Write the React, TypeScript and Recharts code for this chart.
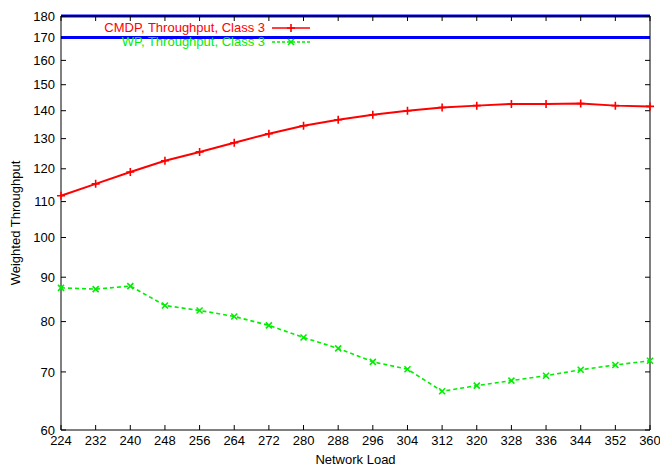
import { LineChart, Line, XAxis, YAxis, Legend, ReferenceLine } from "recharts";

const loads = [224, 232, 240, 248, 256, 264, 272, 280, 288, 296, 304, 312, 320, 328, 336, 344, 352, 360];
const cmdp = [111.7, 115.3, 119.0, 122.6, 125.5, 128.6, 131.7, 134.5, 136.7, 138.5, 140.0, 141.2, 141.9, 142.5, 142.5, 142.7, 141.9, 141.6];
const wp = [87.5, 87.2, 87.9, 83.5, 82.4, 81.1, 79.2, 76.7, 74.5, 71.9, 70.5, 66.5, 67.5, 68.4, 69.3, 70.4, 71.3, 72.1];
const yTicks = [60, 70, 80, 90, 100, 110, 120, 130, 140, 150, 160, 170, 180];

const data = loads.map((load, i) => ({ load, cmdp: cmdp[i], wp: wp[i] }));

const RED = "#ff0000";
const GREEN = "#00ee00";
const font = "'Liberation Sans', Arial, Helvetica, sans-serif";

const PlusDot = (props: any) => {
  const { cx, cy, index } = props;
  return (
    <path
      key={"p" + index}
      d={`M${cx - 4},${cy}h8M${cx},${cy - 4}v8`}
      stroke={RED}
      strokeWidth={1.6}
      fill="none"
    />
  );
};

const CrossDot = (props: any) => {
  const { cx, cy, index } = props;
  return (
    <path
      key={"x" + index}
      d={`M${cx - 3},${cy - 3}l6,6M${cx - 3},${cy + 3}l6,-6`}
      stroke={GREEN}
      strokeWidth={1.6}
      fill="none"
    />
  );
};

// mirror axes: tick marks only, no labels
const NoLabel = () => <g />;

const LegendBox = () => (
  <div style={{ fontFamily: font, fontSize: 13, lineHeight: "14px" }}>
    {[
      { label: "CMDP, Throughput, Class 3", color: RED, dash: undefined, Dot: PlusDot },
      { label: "WP, Throughput, Class 3", color: GREEN, dash: "3 2", Dot: CrossDot },
    ].map((r) => (
      <div key={r.label} style={{ display: "flex", justifyContent: "flex-end", alignItems: "center" }}>
        <span style={{ color: r.color, marginRight: 7 }}>{r.label}</span>
        <svg width={38} height={14}>
          <line x1={0} y1={7} x2={38} y2={7} stroke={r.color} strokeWidth={1.6} strokeDasharray={r.dash} />
          <r.Dot cx={19} cy={7} index={0} />
        </svg>
      </div>
    ))}
  </div>
);

export default function App() {
  return (
    <div style={{ position: "absolute", left: 0, top: 0, background: "#fff" }}>
      <LineChart width={660} height={468} data={data} margin={{ top: 0, right: 0, bottom: 0, left: 0 }}>
        <XAxis
          dataKey="load"
          type="number"
          domain={[224, 360]}
          ticks={loads}
          interval={0}
          height={38}
          stroke="#000"
          tickSize={-5}
          tickMargin={11}
          tick={{ fill: "#000", fontSize: 13, fontFamily: font }}
          label={{ value: "Network Load", position: "center", dy: 10, fill: "#000", fontSize: 13, fontFamily: font }}
        />
        <XAxis
          xAxisId="top"
          dataKey="load"
          orientation="top"
          type="number"
          domain={[224, 360]}
          ticks={loads}
          interval={0}
          height={16}
          stroke="#000"
          tickSize={-5}
          tick={NoLabel}
        />
        <YAxis
          scale="log"
          type="number"
          domain={[60, 180]}
          ticks={yTicks}
          interval={0}
          allowDataOverflow
          width={61}
          stroke="#000"
          tickSize={-5}
          tickMargin={11}
          tick={{ fill: "#000", fontSize: 13, fontFamily: font }}
          label={{ value: "Weighted Throughput", angle: -90, position: "center", dx: -15, fill: "#000", fontSize: 13, fontFamily: font }}
        />
        <YAxis
          yAxisId="right"
          orientation="right"
          scale="log"
          type="number"
          domain={[60, 180]}
          ticks={yTicks}
          interval={0}
          allowDataOverflow
          width={10}
          stroke="#000"
          tickSize={-5}
          tick={NoLabel}
        />
        <ReferenceLine y={180} stroke="#0000ff" strokeWidth={3} ifOverflow="visible" />
        <ReferenceLine y={170} stroke="#0000ff" strokeWidth={3} ifOverflow="visible" />
        <Legend
          layout="vertical"
          align="center"
          verticalAlign="middle"
          content={<LegendBox />}
          wrapperStyle={{ left: 60, top: 21, width: 250 }}
        />
        <Line
          dataKey="cmdp"
          type="linear"
          stroke={RED}
          strokeWidth={2}
          dot={PlusDot}
          activeDot={false}
          isAnimationActive={false}
        />
        <Line
          dataKey="wp"
          type="linear"
          stroke={GREEN}
          strokeWidth={1.6}
          strokeDasharray="4 3"
          dot={CrossDot}
          activeDot={false}
          isAnimationActive={false}
        />
      </LineChart>
    </div>
  );
}
